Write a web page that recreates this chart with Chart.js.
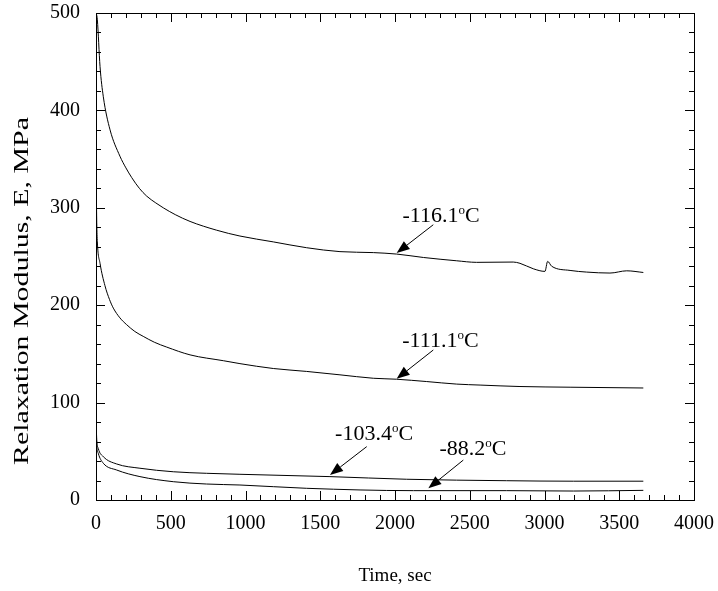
<!DOCTYPE html>
<html>
<head>
<meta charset="utf-8">
<script src="https://cdn.jsdelivr.net/npm/chart.js@4"></script>
<style>
  body { margin: 0; background: #fff; }
  canvas { display: block; }
</style>
</head>
<body>
<canvas id="chart" width="718" height="591"></canvas>
<script>
// relaxation modulus curves, time in sec, E in MPa
let t116 = [2, 9, 27, 49, 94, 160, 200, 239, 290, 339, 400, 450, 530, 629, 807, 963, 1186, 1409, 1632, 1855, 2011, 2190, 2413, 2546, 2791, 2836, 2925, 3003, 3021, 3048, 3171, 3282, 3438, 3550, 3661];
let e116 = [500, 493, 445, 414, 380, 353, 341, 331, 320, 312, 305, 300, 293, 286, 277, 271, 265, 259, 255, 254, 252.5, 249, 245.6, 244, 244.3, 243, 237.4, 234.7, 245, 240, 235.7, 234, 233, 235.3, 233.6];

let t111 = [0, 2, 5, 9, 27, 60, 90, 116, 160, 205, 260, 316, 390, 473, 629, 852, 963, 1186, 1409, 1632, 1855, 2011, 2212, 2413, 2569, 2836, 3171, 3661];
let e111 = [355, 320, 285, 265, 243, 220, 206, 197, 187, 180, 173, 168, 162, 157, 149, 143, 140, 135, 132, 128.5, 125, 124, 121.6, 119, 118, 116.5, 115.8, 115];

let t103 = [0, 2, 5, 15, 49, 138, 294, 517, 740, 963, 1565, 2078, 2747, 3193, 3661];
let e103 = [90, 75, 62, 53, 44.5, 37, 32.6, 29, 27.4, 26.4, 24, 21.3, 19.8, 19.3, 19.3];

let t88 = [0, 2, 5, 15, 49, 138, 294, 517, 740, 963, 1409, 2123, 2747, 3193, 3661];
let e88 = [85, 68, 56, 48, 37.7, 30.8, 24, 18.8, 16.4, 15.4, 12, 9.6, 9.6, 9.2, 9.9];

// labels with arrows, in data units
let labelText = ["-116.1", "-111.1", "-103.4", "-88.2"];
let labelAt = [[2308, 293], [2304, 164.4], [1860, 68.9], [2522, 53.4]];
let arrowFrom = [[2256, 282.6], [2256, 154], [1811, 54.8], [2457, 41]];
let arrowTo = [[2011, 253.5], [2011, 124.4], [1565, 25.7], [2223, 12]];

const FONT = "'Liberation Serif', 'Times New Roman', serif";

function pts(t, e) {
    return t.map((v, i) => ({ x: v, y: e[i] }));
}

function line(t, e) {
    return {
        data: pts(t, e),
        borderColor: "#000",
        borderWidth: 1,
        pointRadius: 0,
        cubicInterpolationMode: "monotone",
        fill: false
    };
}

function noPad(s) {
    s.paddingTop = 0;
    s.paddingBottom = 0;
    s.paddingLeft = 0;
    s.paddingRight = 0;
}

const frame = {
    id: "frame",
    afterDraw(chart) {
        let ctx = chart.ctx;
        let a = chart.chartArea;
        let x = chart.scales.x, y = chart.scales.y;
        ctx.save();
        ctx.strokeStyle = "#000";
        ctx.lineWidth = 1;
        ctx.strokeRect(a.left + 0.5, a.top + 0.5, a.right - a.left, a.bottom - a.top);

        // inward ticks on all four sides
        ctx.beginPath();
        for (let v = 0; v <= 4000; v += 100) {
            let px = Math.round(x.getPixelForValue(v)) + 0.5;
            let len = v % 500 === 0 ? 9 : 5;
            ctx.moveTo(px, a.bottom); ctx.lineTo(px, a.bottom - len);
            ctx.moveTo(px, a.top); ctx.lineTo(px, a.top + len);
        }
        for (let v = 0; v <= 500; v += 20) {
            let py = Math.round(y.getPixelForValue(v)) + 0.5;
            let len = v % 100 === 0 ? 9 : 5;
            ctx.moveTo(a.left, py); ctx.lineTo(a.left + len, py);
            ctx.moveTo(a.right, py); ctx.lineTo(a.right - len, py);
        }
        ctx.stroke();

        // arrows
        ctx.fillStyle = "#000";
        for (let i = 0; i < arrowTo.length; i++) {
            let x0 = x.getPixelForValue(arrowFrom[i][0]), y0 = y.getPixelForValue(arrowFrom[i][1]);
            let x1 = x.getPixelForValue(arrowTo[i][0]), y1 = y.getPixelForValue(arrowTo[i][1]);
            let ang = Math.atan2(y1 - y0, x1 - x0);
            let hl = 13, hw = 5;
            let bx = x1 - hl * Math.cos(ang), by = y1 - hl * Math.sin(ang);
            ctx.beginPath();
            ctx.moveTo(x0, y0); ctx.lineTo(bx, by);
            ctx.stroke();
            ctx.beginPath();
            ctx.moveTo(x1, y1);
            ctx.lineTo(bx + hw * Math.sin(ang), by - hw * Math.cos(ang));
            ctx.lineTo(bx - hw * Math.sin(ang), by + hw * Math.cos(ang));
            ctx.closePath();
            ctx.fill();

            // label: number, superscript o, C
            let cx = x.getPixelForValue(labelAt[i][0]), cy = y.getPixelForValue(labelAt[i][1]);
            ctx.font = "22px " + FONT;
            let w1 = ctx.measureText(labelText[i]).width;
            let wC = ctx.measureText("C").width;
            ctx.font = "13px " + FONT;
            let wo = ctx.measureText("o").width;
            let left = cx - (w1 + wo + wC) / 2;
            let base = cy + 7;
            ctx.textBaseline = "alphabetic";
            ctx.textAlign = "left";
            ctx.font = "22px " + FONT;
            ctx.fillText(labelText[i], left, base);
            ctx.fillText("C", left + w1 + wo, base);
            ctx.font = "13px " + FONT;
            ctx.fillText("o", left + w1, base - 8);
        }

        // axis titles
        ctx.textAlign = "center";
        ctx.textBaseline = "middle";
        ctx.font = "19px " + FONT;
        ctx.fillText("Time, sec", 395, 576);

        ctx.font = "22px " + FONT;
        let ytitle = "Relaxation Modulus, E, MPa";
        let tw = ctx.measureText(ytitle).width;
        ctx.translate(22, 291);
        ctx.rotate(-Math.PI / 2);
        ctx.scale(348 / tw, 1);
        ctx.fillText(ytitle, 0, 0);
        ctx.restore();
    }
};

new Chart(document.getElementById("chart"), {
    type: "line",
    data: {
        datasets: [line(t116, e116), line(t111, e111), line(t103, e103), line(t88, e88)]
    },
    options: {
        responsive: false,
        animation: false,
        layout: { padding: { top: 13, right: 24, left: 0, bottom: 0 } },
        plugins: { legend: { display: false }, tooltip: { enabled: false } },
        scales: {
            x: {
                type: "linear",
                min: 0,
                max: 4000,
                grid: { display: false, drawTicks: false },
                border: { display: false },
                ticks: {
                    stepSize: 100,
                    autoSkip: false,
                    maxRotation: 0,
                    padding: 12,
                    color: "#000",
                    font: { family: FONT, size: 20 },
                    callback: v => v % 500 === 0 ? String(v) : ""
                },
                afterFit(s) { s.height = 91; noPad(s); }
            },
            y: {
                min: 0,
                max: 500,
                grid: { display: false, drawTicks: false },
                border: { display: false },
                ticks: {
                    stepSize: 20,
                    autoSkip: false,
                    padding: 16,
                    color: "#000",
                    font: { family: FONT, size: 20 },
                    callback: v => v % 100 === 0 ? String(v) : ""
                },
                afterFit(s) { s.width = 96; noPad(s); }
            }
        }
    },
    plugins: [frame]
});
</script>
</body>
</html>
